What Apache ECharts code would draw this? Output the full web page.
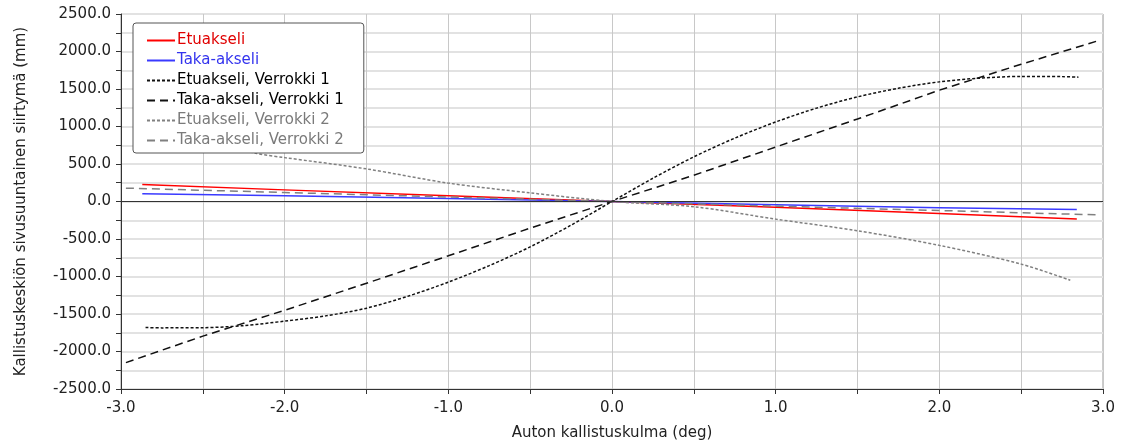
<!DOCTYPE html>
<html>
<head>
<meta charset="utf-8">
<script src="https://cdn.jsdelivr.net/npm/echarts@6/dist/echarts.min.js"></script>
<style>html,body{margin:0;padding:0;background:#fff}#c{width:1127px;height:443px}</style>
</head>
<body>
<div id="c"></div>
<script>
// ---- Data ----
const seriesNames = ['Etuakseli', 'Taka-akseli', 'Etuakseli, Verrokki 1', 'Taka-akseli, Verrokki 1', 'Etuakseli, Verrokki 2', 'Taka-akseli, Verrokki 2'];

const xEtu = [-2.87, -2.0, -1.0, 0.0, 1.0, 2.0, 2.84];
const yEtu = [227, 155, 78, 0, -78, -160, -232];

const xTaka = [-2.87, -2.0, -1.0, 0.0, 1.0, 2.0, 2.84];
const yTaka = [104, 78, 40, 0, -42, -82, -108];

const xEtuV1 = [-2.85, -2.75, -2.5, -2.25, -2.0, -1.75, -1.5, -1.25, -1.0, -0.75, -0.5, -0.25, 0.0, 0.25, 0.5, 0.75, 1.0, 1.25, 1.5, 1.75, 2.0, 2.25, 2.5, 2.75, 2.85];
const yEtuV1 = [-1680, -1685, -1683, -1655, -1595, -1525, -1422, -1265, -1075, -855, -605, -315, 0, 310, 595, 845, 1060, 1245, 1395, 1510, 1595, 1645, 1668, 1665, 1658];

const xTakaV1 = [-2.97, -2.5, -2.0, -1.5, -1.0, -0.5, 0.0, 0.5, 1.0, 1.5, 2.0, 2.5, 2.97];
const yTakaV1 = [-2148, -1795, -1450, -1090, -724, -355, 0, 350, 726, 1100, 1484, 1830, 2143];

const xEtuV2 = [-2.8, -2.5, -2.17, -2.0, -1.5, -1.0, -0.5, 0.0, 0.5, 1.0, 1.5, 2.0, 2.5, 2.8];
const yEtuV2 = [1040, 820, 640, 585, 435, 245, 115, 0, -70, -235, -390, -585, -835, -1050];

const xTakaV2 = [-2.97, -2.0, -1.0, 0.0, 1.0, 2.0, 2.96];
const yTakaV2 = [178, 120, 60, 0, -62, -120, -178];

const xLabelName = 'Auton kallistuskulma (deg)';
const yLabelName = 'Kallistuskeskiön sivusuuntainen siirtymä (mm)';

// ---- Build chart ----
const pts = (xs, ys) => xs.map((x, i) => [x, ys[i]]);
const FONT = '"DejaVu Sans", "Liberation Sans", sans-serif';

const colors = ['#ff0000', '#3a3aff', '#111111', '#111111', '#808080', '#808080'];
const textColors = ['#e00000', '#3333ee', '#000000', '#000000', '#7a7a7a', '#7a7a7a'];
const dashes = ['solid', 'solid', [3, 2], [8, 5], [3, 2], [8, 5]];
const dataSets = [pts(xEtu, yEtu), pts(xTaka, yTaka), pts(xEtuV1, yEtuV1), pts(xTakaV1, yTakaV1), pts(xEtuV2, yEtuV2), pts(xTakaV2, yTakaV2)];
const smooths = [false, false, 0.3, false, 0.3, false];

const series = seriesNames.map((n, i) => ({
  name: n,
  type: 'line',
  data: dataSets[i],
  showSymbol: false,
  symbol: 'none',
  smooth: smooths[i],
  lineStyle: { color: colors[i], width: 1.5, type: dashes[i] },
  itemStyle: { color: colors[i] },
  z: 3,
  silent: true
}));
series.push({
  name: 'zero',
  type: 'line',
  data: [],
  markLine: {
    silent: true,
    symbol: 'none',
    label: { show: false },
    lineStyle: { color: '#333', width: 1, type: 'solid' },
    data: [{ yAxis: 0 }]
  },
  z: 2
});

const chart = echarts.init(document.getElementById('c'), null, { renderer: 'canvas' });
chart.setOption({
  animation: false,
  backgroundColor: '#fff',
  textStyle: { fontFamily: FONT },
  grid: { left: 121, right: 24, top: 14, bottom: 54, containLabel: false, outerBoundsMode: 'none', show: true, borderColor: '#999', borderWidth: 1, backgroundColor: 'transparent' },
  legend: {
    orient: 'vertical',
    left: 133,
    top: 23,
    padding: [10, 20, 5, 13],
    itemWidth: 28,
    itemHeight: 14,
    itemGap: 5,
    backgroundColor: '#fff',
    borderColor: '#555',
    borderWidth: 1,
    borderRadius: 3,
    itemStyle: { color: 'transparent', borderColor: 'transparent', borderWidth: 0, opacity: 0 },
    textStyle: { fontFamily: FONT, fontSize: 15, padding: [0, 0, 0, -3] },
    data: seriesNames.map((n, i) => ({ name: n, textStyle: { color: textColors[i] } })),
    z: 10
  },
  xAxis: {
    type: 'value',
    min: -3, max: 3, interval: 0.5,
    name: xLabelName,
    nameLocation: 'middle',
    nameGap: 37,
    nameTextStyle: { fontFamily: FONT, fontSize: 15, color: '#222' },
    axisLine: { onZero: false, lineStyle: { color: '#333', width: 1 } },
    axisTick: { show: true, length: 5, lineStyle: { color: '#333' } },
    axisLabel: { margin: 12, fontFamily: FONT, fontSize: 15, color: '#222', formatter: v => Number.isInteger(v) ? v.toFixed(1) : '' },
    splitLine: { show: true, lineStyle: { color: '#c8c8c8', width: 1 } }
  },
  yAxis: {
    type: 'value',
    min: -2500, max: 2500, interval: 250,
    name: yLabelName,
    nameLocation: 'middle',
    nameGap: 92,
    nameTextStyle: { fontFamily: FONT, fontSize: 15, color: '#222' },
    axisLine: { show: true, onZero: false, lineStyle: { color: '#333', width: 1 } },
    axisTick: { show: true, length: 5, lineStyle: { color: '#333' } },
    axisLabel: { margin: 10, fontFamily: FONT, fontSize: 15, color: '#222', formatter: v => (v % 500 === 0) ? v.toFixed(1) : '' },
    splitLine: { show: true, lineStyle: { color: '#e2e2e2', width: 2 } }
  },
  series: series
});
</script>
</body>
</html>
